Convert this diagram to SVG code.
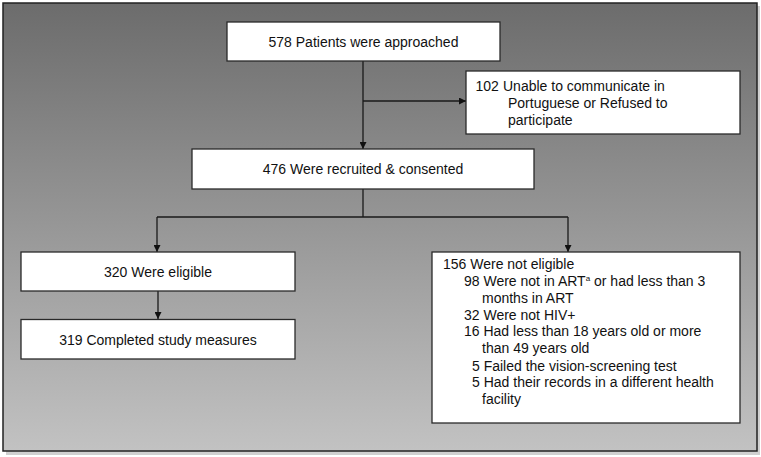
<svg xmlns="http://www.w3.org/2000/svg" width="761" height="457" viewBox="0 0 761 457">
<defs>
<linearGradient id="bg" x1="0" y1="0" x2="0" y2="1">
<stop offset="0" stop-color="#6c6c6c"/>
<stop offset="1" stop-color="#c2c2c2"/>
</linearGradient>
<marker id="ah" viewBox="0 0 10 10" refX="10" refY="5" markerWidth="7" markerHeight="7" markerUnits="userSpaceOnUse" orient="auto">
<path d="M0,0 L10,5 L0,10 z" fill="#111"/>
</marker>
</defs>
<style>
.box{fill:#fff;stroke:#2a2a2a;stroke-width:1.3}
.t{font-family:"Liberation Sans",Arial,sans-serif;font-size:14px;fill:#111}
.c{text-anchor:middle}
.ln{fill:none;stroke:#1a1a1a;stroke-width:1.3}
</style>
<rect x="0" y="0" width="761" height="457" fill="#fff"/>
<rect x="6" y="6" width="754" height="449" fill="#d0d0d0"/>
<rect x="3" y="3" width="754" height="448" fill="url(#bg)" stroke="#222" stroke-width="1.5"/>

<g id="connectors">
<path class="ln" d="M363,61 V149" marker-end="url(#ah)"/>
<path class="ln" d="M363,101 H466" marker-end="url(#ah)"/>
<path class="ln" d="M363,189 V217"/>
<path class="ln" d="M157,217 H568"/>
<path class="ln" d="M157,217 V252" marker-end="url(#ah)"/>
<path class="ln" d="M568,217 V252" marker-end="url(#ah)"/>
<path class="ln" d="M158,291 V319" marker-end="url(#ah)"/>
</g>

<g id="n578">
<rect class="box" x="227" y="22" width="273" height="39"/>
<text class="t c" x="363.5" y="46.5">578 Patients were approached</text>
</g>

<g id="n102">
<rect class="box" x="466" y="71" width="274" height="63"/>
<text class="t" x="475.5" y="91">102</text>
<text class="t" x="503" y="91">Unable to communicate in</text>
<text class="t" x="508" y="108">Portuguese or Refused to</text>
<text class="t" x="508" y="124.5">participate</text>
</g>

<g id="n476">
<rect class="box" x="192" y="149" width="342" height="40"/>
<text class="t c" x="363" y="174">476 Were recruited &amp; consented</text>
</g>

<g id="n320">
<rect class="box" x="21" y="252" width="274" height="39"/>
<text class="t c" x="158" y="277">320 Were eligible</text>
</g>

<g id="n319">
<rect class="box" x="21" y="319.5" width="274" height="39.5"/>
<text class="t c" x="158" y="345">319 Completed study measures</text>
</g>

<g id="n156">
<rect class="box" x="432" y="252" width="308" height="171"/>
<text class="t" x="443" y="269">156 Were not eligible</text>
<text class="t" x="464" y="286">98 Were not in ART<tspan font-size="8" dy="-5">a</tspan><tspan dy="5"> or had less than 3</tspan></text>
<text class="t" x="482" y="302.5">months in ART</text>
<text class="t" x="464" y="319.5">32 Were not HIV+</text>
<text class="t" x="464" y="336">16 Had less than 18 years old or more</text>
<text class="t" x="482" y="353">than 49 years old</text>
<text class="t" x="472" y="370.5">5 Failed the vision-screening test</text>
<text class="t" x="472" y="387">5 Had their records in a different health</text>
<text class="t" x="482" y="404">facility</text>
</g>
</svg>
